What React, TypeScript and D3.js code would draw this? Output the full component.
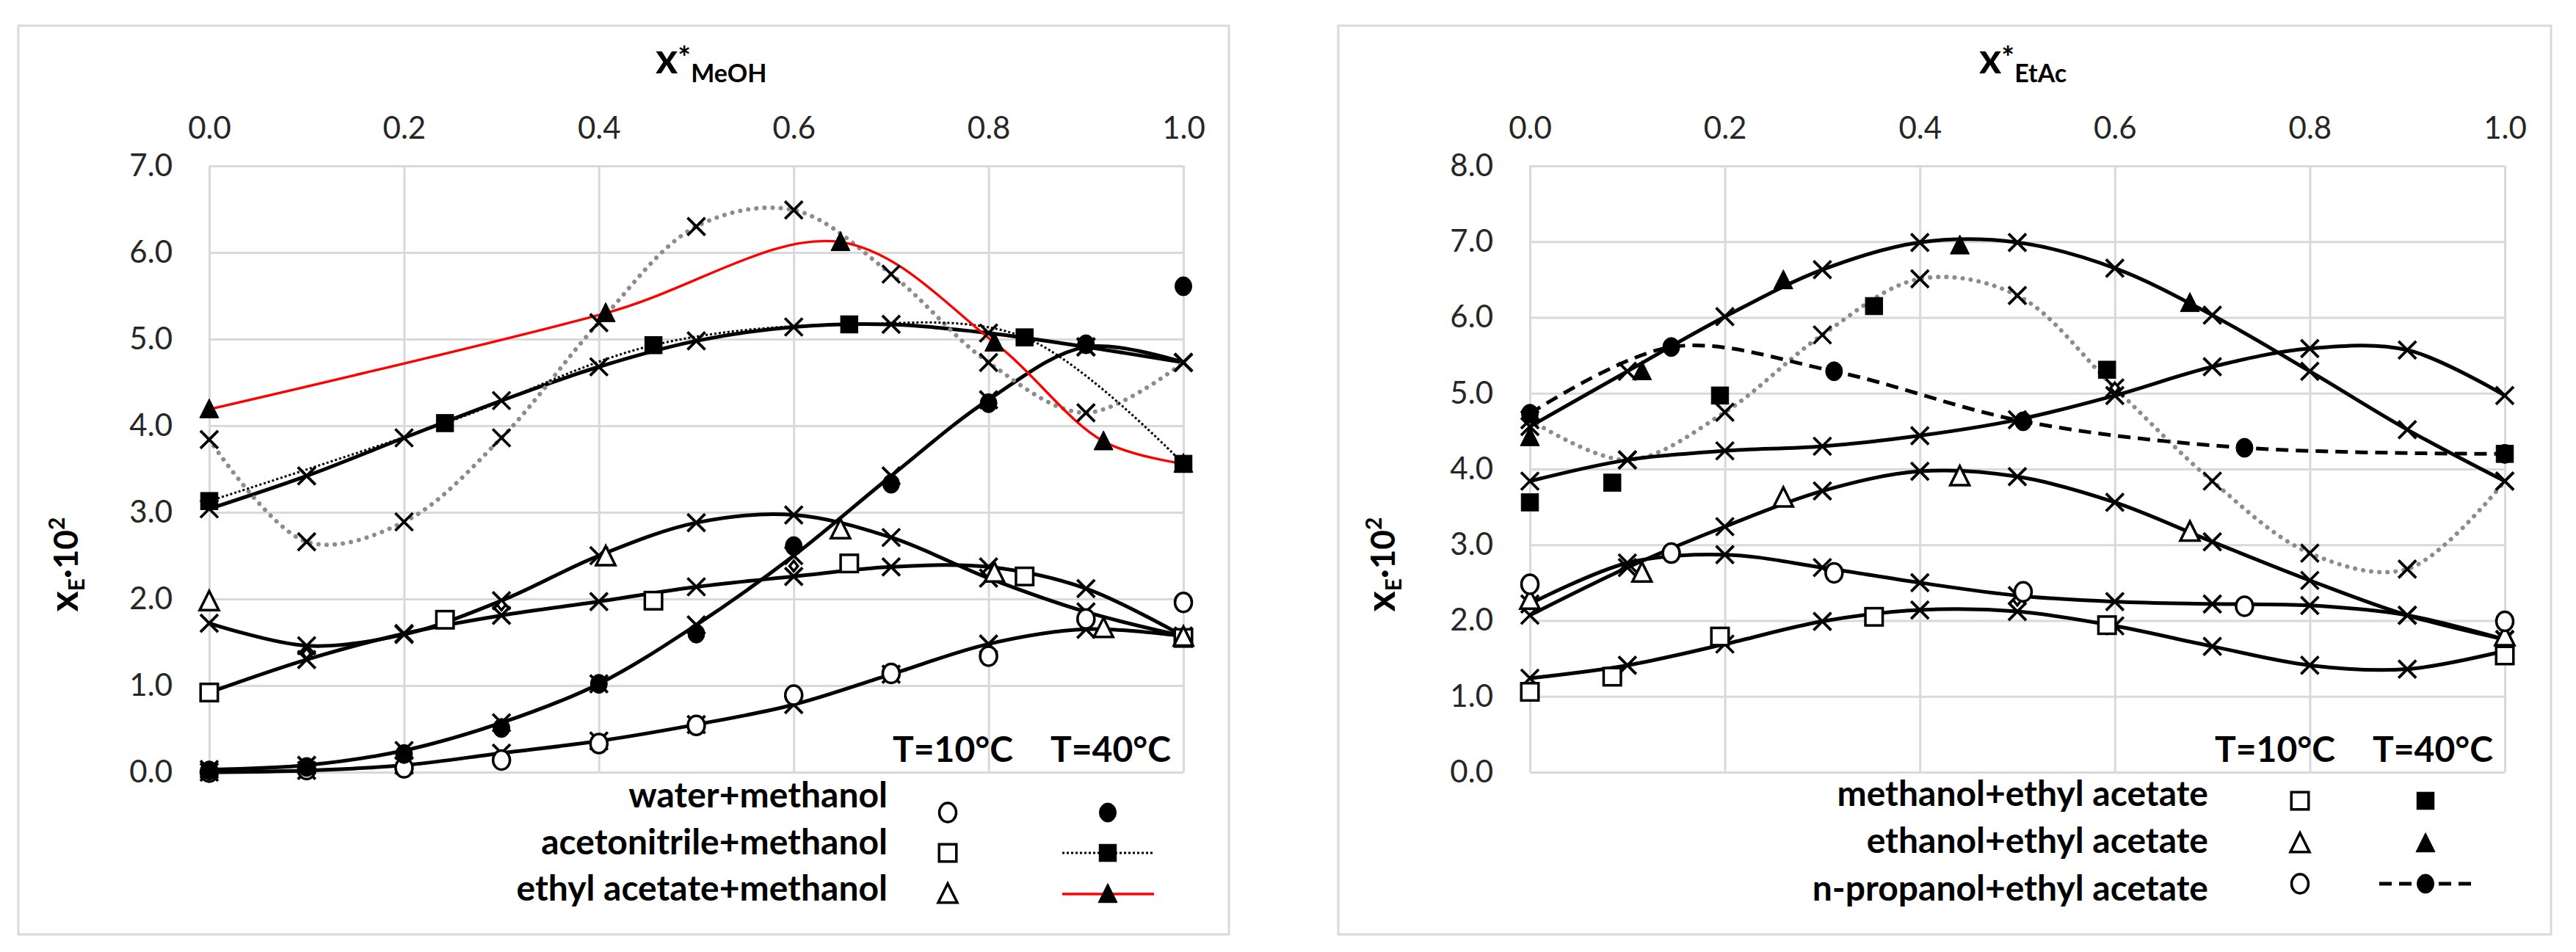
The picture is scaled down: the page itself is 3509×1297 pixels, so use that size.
import { useEffect, useRef } from 'react';
import * as d3 from 'd3';

// common x grid of the model curves (the "x" markers)
const modelX = [0, 0.1, 0.2, 0.3, 0.4, 0.5, 0.6, 0.7, 0.8, 0.9, 1.0];
const xTicks = [0, 0.2, 0.4, 0.6, 0.8, 1.0];

// ---- left panel: solvent + methanol, x*MeOH
const meohYTicks = [0, 1, 2, 3, 4, 5, 6, 7];
const waterMeohX = [0, 0.1, 0.2, 0.3, 0.4, 0.5, 0.6, 0.7, 0.8, 0.9, 1.0];
const waterMeoh10 = [0.0, 0.03, 0.05, 0.14, 0.33, 0.54, 0.89, 1.14, 1.34, 1.77, 1.96];
const waterMeoh40 = [0.02, 0.06, 0.21, 0.51, 1.02, 1.6, 2.61, 3.33, 4.26, 4.94, 5.61];
const acnMeohX = [0, 0.242, 0.456, 0.657, 0.837, 1.0];
const acnMeoh10 = [0.92, 1.76, 1.98, 2.41, 2.26, 1.55];
const acnMeoh40 = [3.13, 4.03, 4.93, 5.17, 5.02, 3.56];
const etacMeohX = [0, 0.407, 0.648, 0.806, 0.918, 1.0];
const etacMeoh10 = [1.97, 2.49, 2.8, 2.3, 1.66, 1.56];
const etacMeoh40 = [4.19, 5.3, 6.12, 4.96, 3.82, 3.56];
const modelWaterMeoh10 = [0.0, 0.02, 0.08, 0.22, 0.36, 0.55, 0.78, 1.13, 1.48, 1.65, 1.57];
const modelWaterMeoh40 = [0.03, 0.08, 0.25, 0.57, 1.02, 1.7, 2.5, 3.42, 4.3, 4.91, 4.73];
const modelAcnMeoh10 = [0.92, 1.3, 1.6, 1.81, 1.97, 2.14, 2.26, 2.37, 2.37, 2.12, 1.57];
const modelAcnMeoh40 = [3.04, 3.42, 3.86, 4.29, 4.68, 4.98, 5.14, 5.17, 5.07, 4.91, 4.73];
const modelEtacMeoh10 = [1.72, 1.46, 1.59, 1.98, 2.5, 2.88, 2.97, 2.71, 2.24, 1.85, 1.57];
const modelEtacMeoh40 = [3.84, 2.66, 2.89, 3.86, 5.19, 6.3, 6.49, 5.75, 4.73, 4.15, 4.73];
const extraMeohX = [0.1, 0.3, 0.6];
const extraMeohY = [1.37, 1.93, 2.38];

// ---- right panel: alcohol + ethyl acetate, x*EtAc
const etacYTicks = [0, 1, 2, 3, 4, 5, 6, 7, 8];
const meohEtacX = [0, 0.0845, 0.195, 0.353, 0.592, 1.0];
const meohEtac10 = [1.06, 1.26, 1.79, 2.05, 1.94, 1.54];
const meohEtac40 = [3.56, 3.82, 4.97, 6.15, 5.31, 4.2];
const etohEtacX = [0, 0.115, 0.26, 0.441, 0.677, 1.0];
const etohEtac10 = [2.27, 2.63, 3.62, 3.9, 3.17, 1.79];
const etohEtac40X = [0, 0.115, 0.26, 0.441, 0.677];
const etohEtac40 = [4.42, 5.29, 6.49, 6.95, 6.19];
const propEtacX = [0, 0.145, 0.312, 0.506, 0.733, 1.0];
const propEtac10 = [2.48, 2.89, 2.63, 2.38, 2.19, 1.99];
const propEtac40 = [4.73, 5.61, 5.29, 4.63, 4.28, 4.2];
const modelMeohEtac10 = [1.24, 1.41, 1.69, 1.99, 2.14, 2.12, 1.93, 1.66, 1.41, 1.36, 1.6];
const modelEtohEtac10 = [2.07, 2.7, 3.24, 3.71, 3.97, 3.9, 3.56, 3.04, 2.53, 2.07, 1.75];
const modelPropEtac10 = [2.22, 2.76, 2.87, 2.7, 2.5, 2.33, 2.25, 2.22, 2.2, 2.07, 1.75];
const modelMeohEtac40 = [4.65, 4.12, 4.75, 5.77, 6.51, 6.29, 5.07, 3.84, 2.89, 2.68, 3.84];
const modelEtohEtac40 = [4.56, 5.29, 6.01, 6.63, 6.99, 6.99, 6.65, 6.03, 5.29, 4.52, 3.84];
const modelPropEtac40 = [3.84, 4.12, 4.24, 4.3, 4.44, 4.65, 4.97, 5.35, 5.59, 5.57, 4.97];
const extraEtacX = [0.5, 0.6];
const extraEtacY = [2.27, 5.07];

const FONT = "Lato, 'Open Sans', sans-serif";
const GRID = '#d9d9d9';

type Shape = 'circle' | 'square' | 'triangle' | 'cross' | 'diamond';
interface LineSpec { xs: number[]; ys: number[]; stroke: string; width: number; dash?: string; cap?: string }
interface MarkSpec { xs: number[]; ys: number[]; shape: Shape; filled: boolean; size?: number }
interface LegendRow { label: string; y: number; base: number; open: Shape; filled: Shape; line?: { stroke: string; width: number; dash?: string } }
interface Panel {
  box: number[];
  plot: number[];
  yTicks: number[];
  titleX: number;
  titleSub: string;
  yLabelX: number;
  lines: LineSpec[];
  marks: MarkSpec[];
  legendRight: number;
  openX: number;
  filledX: number;
  lineSpan: number[];
  rows: LegendRow[];
  tX: number[];
}

const solid = (ys: number[]): LineSpec => ({ xs: modelX, ys, stroke: '#000', width: 5 });
const grayDots = (ys: number[]): LineSpec => ({ xs: modelX, ys, stroke: '#8c8c8c', width: 6, dash: '0.1,11', cap: 'round' });
const crosses = (ys: number[]): MarkSpec => ({ xs: modelX, ys, shape: 'cross', filled: false });

const panels: Panel[] = [
  {
    box: [25, 35, 1674, 1273],
    plot: [285, 226, 1612, 1052],
    yTicks: meohYTicks,
    titleX: 893,
    titleSub: 'MeOH',
    yLabelX: 106,
    lines: [
      solid(modelWaterMeoh10),
      solid(modelWaterMeoh40),
      solid(modelAcnMeoh10),
      solid(modelAcnMeoh40),
      solid(modelEtacMeoh10),
      grayDots(modelEtacMeoh40),
      { xs: acnMeohX, ys: acnMeoh40, stroke: '#000', width: 3, dash: '3,3' },
      { xs: etacMeohX, ys: etacMeoh40, stroke: '#ff0000', width: 3.4 },
    ],
    marks: [
      crosses(modelWaterMeoh10),
      crosses(modelWaterMeoh40),
      crosses(modelAcnMeoh10),
      crosses(modelAcnMeoh40),
      crosses(modelEtacMeoh10),
      crosses(modelEtacMeoh40),
      { xs: extraMeohX, ys: extraMeohY, shape: 'diamond', filled: false, size: 14 },
      { xs: waterMeohX, ys: waterMeoh10, shape: 'circle', filled: false },
      { xs: waterMeohX, ys: waterMeoh40, shape: 'circle', filled: true },
      { xs: acnMeohX, ys: acnMeoh10, shape: 'square', filled: false },
      { xs: acnMeohX, ys: acnMeoh40, shape: 'square', filled: true },
      { xs: etacMeohX, ys: etacMeoh10, shape: 'triangle', filled: false },
      { xs: etacMeohX, ys: etacMeoh40, shape: 'triangle', filled: true },
    ],
    legendRight: 1209,
    openX: 1291,
    filledX: 1509,
    lineSpan: [1447, 1572],
    rows: [
      { label: 'water+methanol', y: 1107, base: 1100, open: 'circle', filled: 'circle' },
      { label: 'acetonitrile+methanol', y: 1162, base: 1164, open: 'square', filled: 'square', line: { stroke: '#000', width: 3, dash: '3,3' } },
      { label: 'ethyl acetate+methanol', y: 1218, base: 1227, open: 'triangle', filled: 'triangle', line: { stroke: '#ff0000', width: 3.4 } },
    ],
    tX: [1298, 1513],
  },
  {
    box: [1823, 35, 3475, 1273],
    plot: [2084, 226, 3412, 1052],
    yTicks: etacYTicks,
    titleX: 2696,
    titleSub: 'EtAc',
    yLabelX: 1900,
    lines: [
      solid(modelMeohEtac10),
      solid(modelEtohEtac10),
      solid(modelPropEtac10),
      grayDots(modelMeohEtac40),
      solid(modelEtohEtac40),
      solid(modelPropEtac40),
      { xs: propEtacX, ys: propEtac40, stroke: '#000', width: 5, dash: '17,10' },
    ],
    marks: [
      crosses(modelMeohEtac10),
      crosses(modelEtohEtac10),
      crosses(modelPropEtac10),
      crosses(modelMeohEtac40),
      crosses(modelEtohEtac40),
      crosses(modelPropEtac40),
      { xs: extraEtacX, ys: extraEtacY, shape: 'diamond', filled: false, size: 14 },
      { xs: meohEtacX, ys: meohEtac10, shape: 'square', filled: false },
      { xs: meohEtacX, ys: meohEtac40, shape: 'square', filled: true },
      { xs: etohEtacX, ys: etohEtac10, shape: 'triangle', filled: false },
      { xs: etohEtac40X, ys: etohEtac40, shape: 'triangle', filled: true },
      { xs: propEtacX, ys: propEtac10, shape: 'circle', filled: false },
      { xs: propEtacX, ys: propEtac40, shape: 'circle', filled: true },
    ],
    legendRight: 3008,
    openX: 3133,
    filledX: 3304,
    lineSpan: [3241, 3368],
    rows: [
      { label: 'methanol+ethyl acetate', y: 1091, base: 1098, open: 'square', filled: 'square' },
      { label: 'ethanol+ethyl acetate', y: 1149, base: 1162, open: 'triangle', filled: 'triangle' },
      { label: 'n-propanol+ethyl acetate', y: 1204, base: 1227, open: 'circle', filled: 'circle', line: { stroke: '#000', width: 5, dash: '17,10' } },
    ],
    tX: [3099, 3314],
  },
];

type G = d3.Selection<SVGGElement, unknown, null, undefined>;

function drawMarker(g: G, shape: Shape, cx: number, cy: number, filled: boolean, size = 27) {
  const fill = filled ? '#000' : '#fff';
  const sw = 3.5;
  if (shape === 'cross') {
    const h = 12;
    g.append('path')
      .attr('d', `M${cx - h},${cy - h}L${cx + h},${cy + h}M${cx - h},${cy + h}L${cx + h},${cy - h}`)
      .attr('stroke', '#000')
      .attr('stroke-width', 3.8)
      .attr('fill', 'none');
    return;
  }
  let el;
  if (shape === 'circle') {
    el = g.append('ellipse').attr('cx', cx).attr('cy', cy).attr('rx', size / 2 - 2).attr('ry', size / 2 - 0.5);
  } else if (shape === 'square') {
    const s = size - sw;
    el = g.append('rect').attr('x', cx - s / 2).attr('y', cy - s / 2).attr('width', s).attr('height', s);
  } else if (shape === 'triangle') {
    const s = size - 1;
    el = g.append('path').attr('d', `M${cx},${cy - s * 0.55}L${cx + s / 2},${cy + s * 0.45}L${cx - s / 2},${cy + s * 0.45}Z`);
  } else {
    const s = size / 2;
    el = g.append('path').attr('d', `M${cx},${cy - s}L${cx + s * 0.8},${cy}L${cx},${cy + s}L${cx - s * 0.8},${cy}Z`);
  }
  el.attr('fill', fill).attr('stroke', '#000').attr('stroke-width', filled ? 1 : sw);
}

function drawPanel(root: d3.Selection<SVGSVGElement, unknown, null, undefined>, p: Panel) {
  const g = root.append('g') as G;
  const [left, top, right, bottom] = p.plot;
  const x = d3.scaleLinear().domain([0, 1]).range([left, right]);
  const y = d3.scaleLinear().domain([0, d3.max(p.yTicks) as number]).range([bottom, top]);

  // outer frame
  g.append('rect')
    .attr('x', p.box[0]).attr('y', p.box[1])
    .attr('width', p.box[2] - p.box[0]).attr('height', p.box[3] - p.box[1])
    .attr('fill', '#fff').attr('stroke', GRID).attr('stroke-width', 3);

  // grid
  g.append('g')
    .attr('transform', `translate(${left},0)`)
    .call(d3.axisLeft(y).tickValues(p.yTicks).tickSize(-(right - left)).tickFormat(() => ''))
    .call(a => a.select('.domain').remove())
    .call(a => a.selectAll('line').attr('stroke', GRID).attr('stroke-width', 3));
  g.append('g')
    .attr('transform', `translate(0,${bottom})`)
    .call(d3.axisBottom(x).tickValues(xTicks).tickSize(-(bottom - top)).tickFormat(() => ''))
    .call(a => a.select('.domain').remove())
    .call(a => a.selectAll('line').attr('stroke', GRID).attr('stroke-width', 3));

  // tick labels
  g.append('g')
    .attr('transform', `translate(${left - 50},0)`)
    .call(d3.axisLeft(y).tickValues(p.yTicks).tickSize(0).tickFormat(d3.format('.1f')))
    .call(a => a.select('.domain').remove())
    .call(a => a.selectAll('text').attr('font-family', FONT).attr('font-size', 42).attr('fill', '#262626').attr('x', 0));
  g.append('g')
    .attr('transform', `translate(0,${top - 52})`)
    .call(d3.axisTop(x).tickValues(xTicks).tickSize(0).tickFormat(d3.format('.1f')))
    .call(a => a.select('.domain').remove())
    .call(a => a.selectAll('text').attr('font-family', FONT).attr('font-size', 42).attr('fill', '#262626').attr('y', 0).attr('dy', '0.35em'));

  // axis title at top
  const t = g.append('text').attr('x', p.titleX).attr('y', 100).attr('font-family', FONT).attr('font-weight', 'bold').attr('fill', '#000');
  t.append('tspan').attr('font-size', 58).text('x');
  t.append('tspan').attr('font-size', 42).attr('dy', -6).text('*');
  t.append('tspan').attr('font-size', 34).attr('dy', 18).text(p.titleSub);

  // y axis title
  const yl = g.append('text')
    .attr('transform', `translate(${p.yLabelX},${(top + bottom) / 2 + 130}) rotate(-90)`)
    .attr('text-anchor', 'middle')
    .attr('font-family', FONT).attr('font-weight', 'bold').attr('fill', '#000');
  yl.append('tspan').attr('font-size', 54).text('x');
  yl.append('tspan').attr('font-size', 30).attr('dy', 9).text('E');
  yl.append('tspan').attr('font-size', 46).attr('dy', -9).text('·10');
  yl.append('tspan').attr('font-size', 30).attr('dy', -18).text('2');

  // series lines
  const line = d3.line<[number, number]>().x(d => x(d[0])).y(d => y(d[1])).curve(d3.curveCatmullRom.alpha(0.5));
  p.lines.forEach(l => {
    g.append('path')
      .datum(l.xs.map((v, i) => [v, l.ys[i]] as [number, number]))
      .attr('d', line)
      .attr('fill', 'none')
      .attr('stroke', l.stroke)
      .attr('stroke-width', l.width)
      .attr('stroke-dasharray', l.dash ?? null)
      .attr('stroke-linecap', l.cap ?? 'butt');
  });

  // markers
  p.marks.forEach(m => {
    m.xs.forEach((v, i) => drawMarker(g, m.shape, x(v), y(m.ys[i]), m.filled, m.size));
  });

  // temperature headers
  ['T=10°C', 'T=40°C'].forEach((s, i) => {
    g.append('text')
      .attr('x', p.tX[i]).attr('y', 1038)
      .attr('text-anchor', 'middle')
      .attr('font-family', FONT).attr('font-weight', 'bold').attr('font-size', 48)
      .attr('fill', '#000').text(s);
  });

  // legend
  p.rows.forEach(r => {
    g.append('text')
      .attr('x', p.legendRight).attr('y', r.base)
      .attr('text-anchor', 'end')
      .attr('font-family', FONT).attr('font-weight', 'bold').attr('font-size', 48)
      .attr('fill', '#000').text(r.label);
    if (r.line) {
      g.append('line')
        .attr('x1', p.lineSpan[0]).attr('x2', p.lineSpan[1])
        .attr('y1', r.y).attr('y2', r.y)
        .attr('stroke', r.line.stroke).attr('stroke-width', r.line.width)
        .attr('stroke-dasharray', r.line.dash ?? null);
    }
    drawMarker(g, r.open, p.openX, r.y, false);
    drawMarker(g, r.filled, p.filledX, r.y, true);
  });
}

export default function App() {
  const svgRef = useRef<SVGSVGElement>(null);

  useEffect(() => {
    if (!svgRef.current) return;
    document.body.style.margin = '0';
    const svg = d3.select(svgRef.current);
    svg.selectAll('*').remove();
    panels.forEach(p => drawPanel(svg, p));
  }, []);

  return <svg ref={svgRef} width={3509} height={1297} style={{ display: 'block', background: '#fff' }} />;
}
